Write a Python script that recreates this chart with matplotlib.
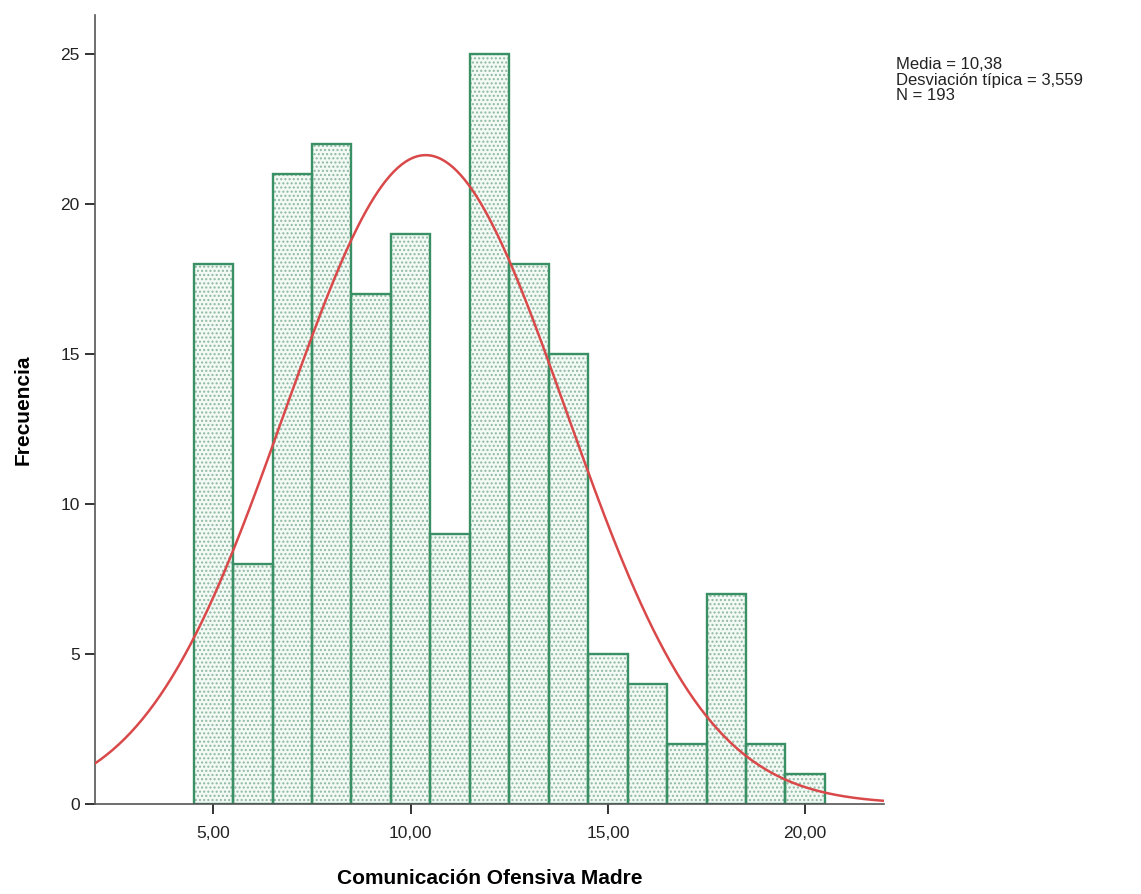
import numpy as np
import matplotlib.pyplot as plt

plt.rcParams['font.family'] = ['Liberation Sans', 'DejaVu Sans']

# puntuaciones y frecuencias
valores = [5, 6, 7, 8, 9, 10, 11, 12, 13, 14, 15, 16, 17, 18, 19, 20]
frecuencias = [18, 8, 21, 22, 17, 19, 9, 25, 18, 15, 5, 4, 2, 7, 2, 1]
media = 10.38
desv = 3.559
n = 193

xticks = [5, 10, 15, 20]
xticklabels = ['5,00', '10,00', '15,00', '20,00']
yticks = [0, 5, 10, 15, 20, 25]

fig = plt.figure(figsize=(11.41, 8.94), dpi=100)
ax = fig.add_axes([0.0833, 0.1007, 0.6915, 0.8823])

# relleno punteado
ax.bar(valores, frecuencias, width=1.0, facecolor='#f3faf6', edgecolor='#8fb8a0',
       hatch='....', linewidth=0, zorder=1)
# borde
ax.bar(valores, frecuencias, width=1.0, fill=False, edgecolor='#3a9065',
       linewidth=1.7, zorder=2)

# curva normal
xs = np.linspace(2, 22, 400)
ys = n * 1.0 * np.exp(-0.5 * ((xs - media) / desv) ** 2) / (desv * np.sqrt(2 * np.pi))
ax.plot(xs, ys, color='#d9494a', linewidth=1.8, zorder=3)

ax.set_xlim(2, 22)
ax.set_ylim(0, 26.3)
ax.set_xticks(xticks)
ax.set_xticklabels(xticklabels)
ax.set_yticks(yticks)

for s in ['top', 'right']:
    ax.spines[s].set_visible(False)
for s in ['left', 'bottom']:
    ax.spines[s].set_color('#555555')
    ax.spines[s].set_linewidth(1.2)
ax.tick_params(axis='both', direction='out', length=7, width=1.4, color='#333333',
               labelsize=12.5, labelcolor='#222222', pad=4)
ax.tick_params(axis='x', pad=9)

ax.set_xlabel('Comunicación Ofensiva Madre', fontsize=15, fontweight='bold', labelpad=20)
ax.set_ylabel('Frecuencia', fontsize=15, fontweight='bold', labelpad=20)

fig.text(896 / 1141, 1 - 57 / 894,
         'Media = 10,38\nDesviación típica = 3,559\nN = 193',
         fontsize=12, va='top', ha='left', linespacing=1.05, color='#222222')

fig.savefig('out.png', dpi=100)
